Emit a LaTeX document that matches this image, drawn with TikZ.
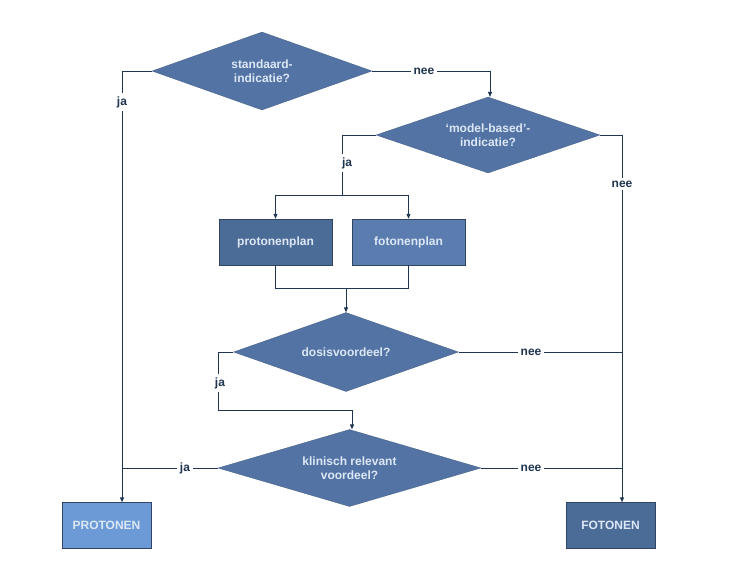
\documentclass[tikz,border=0pt]{standalone}
\usepackage{fontspec}
\setmainfont{Liberation Sans}
\usetikzlibrary{shapes.geometric,arrows.meta}
\definecolor{dia}{HTML}{5273A3}
\definecolor{boxd}{HTML}{4C6C98}
\definecolor{boxm}{HTML}{5A7CAE}
\definecolor{boxl}{HTML}{6B9AD6}
\definecolor{tx}{HTML}{DDE8F7}
\definecolor{ln}{HTML}{1F3550}
\begin{document}
\begin{tikzpicture}[x=1pt,y=-1pt,
  dec/.style={diamond,shape aspect=2.8,inner sep=0pt,fill=dia,draw=dia!80!black,line width=0.3pt,text=tx,font=\bfseries\fontsize{12}{14}\selectfont,align=center},
  box/.style={rectangle,inner sep=0pt,draw=dia!60!black,line width=0.4pt,text=tx,font=\bfseries\fontsize{12}{14}\selectfont,minimum width=#1,minimum height=46pt},
  lab/.style={fill=white,inner sep=3pt,text=ln,font=\bfseries\fontsize{12}{14}\selectfont},
  con/.style={draw=ln,line width=0.9pt},
  arr/.style={con,-{Triangle[length=5pt,width=4pt]}}]
\useasboundingbox (0,0) rectangle (744,571);
\node[dec,minimum width=220pt,minimum height=78pt] (d1) at (262,71) {standaard-\\indicatie?};
\node[dec,minimum width=224pt,minimum height=76pt] (d2) at (488,135) {‘model-based’-\\indicatie?};
\node[box=113pt,fill=boxd] (pp) at (275.5,242) {protonenplan};
\node[box=113pt,fill=boxm] (fp) at (408.5,242) {fotonenplan};
\node[dec,minimum width=225pt,minimum height=79pt] (d3) at (346,352) {dosisvoordeel?};
\node[dec,minimum width=263pt,minimum height=77pt] (d4) at (349.5,468) {klinisch relevant\\voordeel?};
\node[box=89pt,fill=boxl] (pr) at (106.5,525.5) {PROTONEN};
\node[box=89pt,fill=boxd] (fo) at (610.5,525.5) {FOTONEN};
\coordinate (j1) at (122,71);
\coordinate (n1) at (490,71);
\coordinate (n2) at (622,135);
\coordinate (j2) at (342,135);
\coordinate (s2) at (342,195);
\coordinate (m1) at (346,288);
\coordinate (j3) at (218,352);
\coordinate (s3) at (218,410);
\coordinate (t3) at (352,410);
\coordinate (n3) at (622,352);
\coordinate (j4) at (122,468);
\coordinate (n4) at (622,468);
% connectors
\draw[arr] (d1.west) -- (j1) -- (pr.north -| j1);
\draw[arr] (d1.east) -- (n1) -- (d2.north -| n1);
\draw[arr] (d2.east) -- (n2) -- (fo.north -| n2);
\draw[con] (d2.west) -- (j2) -- (s2);
\draw[arr] (s2) -| (pp.north);
\draw[arr] (s2) -| (fp.north);
\draw[con] (pp.south) |- (m1);
\draw[con] (fp.south) |- (m1);
\draw[arr] (m1) -- (d3.north -| m1);
\draw[con] (d3.west) -- (j3) -- (s3);
\draw[arr] (s3) -- (t3) -- (d4.north -| t3);
\draw[con] (d3.east) -- (n3);
\draw[con] (d4.west) -- (j4);
\draw[con] (d4.east) -- (n4);
% labels
\node[lab] at (122,102) {ja};
\node[lab] at (424,71) {nee};
\node[lab] at (622,184) {nee};
\node[lab] at (347,163) {ja};
\node[lab] at (220,383) {ja};
\node[lab] at (531,352) {nee};
\node[lab] at (185,468) {ja};
\node[lab] at (531,468) {nee};
\end{tikzpicture}
\end{document}
